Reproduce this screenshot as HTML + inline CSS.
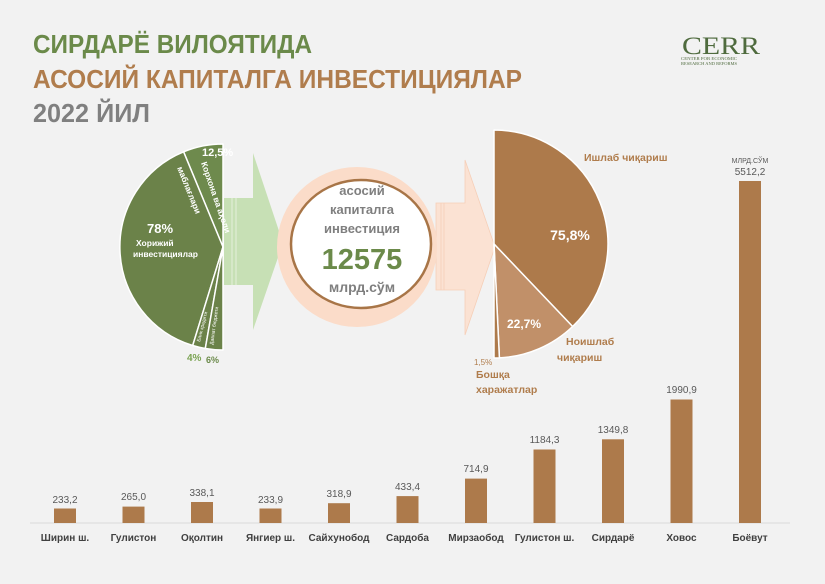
<!DOCTYPE html>
<html><head><meta charset="utf-8"><style>
html,body{margin:0;padding:0;background:#f2f2f2;}
svg{display:block;font-family:"Liberation Sans","DejaVu Sans",sans-serif;}
</style></head><body>
<svg width="825" height="584" viewBox="0 0 825 584" xmlns="http://www.w3.org/2000/svg">
<rect width="825" height="584" fill="#f2f2f2"/>
<!-- titles -->
<text x="33" y="53" font-size="26" font-weight="bold" fill="#6b8a4a" textLength="279" lengthAdjust="spacingAndGlyphs">СИРДАРЁ ВИЛОЯТИДА</text>
<text x="33" y="88" font-size="26" font-weight="bold" fill="#b07d4d" textLength="489" lengthAdjust="spacingAndGlyphs">АСОСИЙ КАПИТАЛГА ИНВЕСТИЦИЯЛАР</text>
<text x="33" y="122" font-size="26" font-weight="bold" fill="#808080" textLength="117" lengthAdjust="spacingAndGlyphs">2022 ЙИЛ</text>
<!-- logo -->
<text x="682" y="54" font-family="Liberation Serif,serif" font-size="25" fill="#4f6b3e" textLength="78" lengthAdjust="spacingAndGlyphs">CERR</text>
<text x="681" y="60" font-family="Liberation Serif,serif" font-size="4" fill="#4f6b3e" textLength="56" lengthAdjust="spacingAndGlyphs">CENTER FOR ECONOMIC</text>
<text x="681" y="65" font-family="Liberation Serif,serif" font-size="4" fill="#4f6b3e" textLength="56" lengthAdjust="spacingAndGlyphs">RESEARCH AND REFORMS</text>

<!-- green arrow -->
<path d="M224,198 L253,198 L253,153 L283,243 L253,330 L253,285 L224,285 Z" fill="#c7e0b5"/>
<line x1="232" y1="198" x2="232" y2="285" stroke="#e6f0dc" stroke-width="1"/>
<line x1="236" y1="198" x2="236" y2="285" stroke="#e6f0dc" stroke-width="1"/>
<!-- peach arrow -->
<path d="M436,203 L465,203 L465,160 L495,247 L465,335 L465,290 L436,290 Z" fill="#fbe2d3" stroke="#f6cfb8" stroke-width="0.8"/>
<line x1="441" y1="203" x2="441" y2="290" stroke="#f6cfb8" stroke-width="0.8"/>
<line x1="444" y1="203" x2="444" y2="290" stroke="#f6cfb8" stroke-width="0.8"/>

<!-- center circle -->
<circle cx="357" cy="247" r="80" fill="#fbdcc9"/>
<ellipse cx="361" cy="244" rx="70" ry="64" fill="#ffffff" stroke="#a87547" stroke-width="2.5"/>
<g font-weight="bold" fill="#7f7f7f" text-anchor="middle">
<text x="362" y="195" font-size="13">асосий</text>
<text x="362" y="214" font-size="13">капиталга</text>
<text x="362" y="233" font-size="13">инвестиция</text>
<text x="362" y="269" font-size="29" fill="#6b8a4a">12575</text>
<text x="362" y="292" font-size="14">млрд.сўм</text>
</g>

<!-- left pie -->
<g stroke="#ffffff" stroke-width="1.5" stroke-linejoin="round">
<path d="M223,247 L223,144 A103,103 0 0 0 183.6,151.8 Z" fill="#6e8a4d"/>
<path d="M223,247 L183.6,151.8 A103,103 0 0 0 192.7,345.5 Z" fill="#6b8249"/>
<path d="M223,247 L192.7,345.5 A103,103 0 0 0 205.3,348.5 Z" fill="#6b8249"/>
<path d="M223,247 L205.3,348.5 A103,103 0 0 0 223,350 Z" fill="#6b8249"/>
</g>
<text x="202" y="156" font-size="11" font-weight="bold" fill="#fff">12,5%</text>
<text transform="translate(201,163) rotate(71)" font-size="8.5" font-weight="bold" fill="#fff">Корхона ва аҳоли</text>
<text transform="translate(177,168) rotate(68)" font-size="8.5" font-weight="bold" fill="#fff">маблағлари</text>
<text x="160" y="233" font-size="13" font-weight="bold" fill="#fff" text-anchor="middle">78%</text>
<text x="136" y="246" font-size="8.5" font-weight="bold" fill="#fff">Хорижий</text>
<text x="133" y="257" font-size="8.5" font-weight="bold" fill="#fff">инвестициялар</text>
<text transform="translate(200,342) rotate(-76)" font-size="5" fill="#fff">Банк кредити</text>
<text transform="translate(213,345) rotate(-82)" font-size="5" fill="#fff">Давлат бюджети</text>
<text x="187" y="361" font-size="10" font-weight="bold" fill="#7aa352">4%</text>
<text x="206" y="363" font-size="9" font-weight="bold" fill="#6b8a4a">6%</text>

<!-- right pie -->
<g stroke="#ffffff" stroke-width="1.5" stroke-linejoin="round">
<path d="M494,244 L494,130 A114,114 0 0 1 572.6,326.5 Z" fill="#ad7a4b"/>
<path d="M494,244 L572.6,326.5 A114,114 0 0 1 499.4,357.9 Z" fill="#c19069"/>
<path d="M494,244 L499.4,357.9 A114,114 0 0 1 494,358 Z" fill="#ad7a4b"/>
</g>
<text x="570" y="240" font-size="14" font-weight="bold" fill="#fff" text-anchor="middle">75,8%</text>
<text x="524" y="328" font-size="12" font-weight="bold" fill="#fff" text-anchor="middle">22,7%</text>
<g font-weight="bold" fill="#b07d4d">
<text x="584" y="161" font-size="10.5">Ишлаб чиқариш</text>
<text x="566" y="345" font-size="10.5">Ноишлаб</text>
<text x="557" y="361" font-size="10.5">чиқариш</text>
<text x="474" y="365" font-size="8" font-weight="normal">1,5%</text>
<text x="476" y="378" font-size="10.5">Бошқа</text>
<text x="476" y="393" font-size="10.5">харажатлар</text>
</g>

<!-- bars -->
<line x1="30" y1="523" x2="790" y2="523" stroke="#d9d9d9" stroke-width="1"/>
<g fill="#ad7a4b">
<rect x="54" y="508.5" width="22" height="14.5"/>
<rect x="122.5" y="506.6" width="22" height="16.4"/>
<rect x="191" y="502" width="22" height="21"/>
<rect x="259.5" y="508.5" width="22" height="14.5"/>
<rect x="328" y="503.2" width="22" height="19.8"/>
<rect x="396.5" y="496.1" width="22" height="26.9"/>
<rect x="465" y="478.6" width="22" height="44.4"/>
<rect x="533.5" y="449.5" width="22" height="73.5"/>
<rect x="602" y="439.3" width="22" height="83.7"/>
<rect x="670.5" y="399.5" width="22" height="123.5"/>
<rect x="739" y="181" width="22" height="342"/>
</g>
<g font-size="10" fill="#595959" text-anchor="middle">
<text x="65" y="503">233,2</text>
<text x="133.5" y="500">265,0</text>
<text x="202" y="496">338,1</text>
<text x="270.5" y="503">233,9</text>
<text x="339" y="497">318,9</text>
<text x="407.5" y="490">433,4</text>
<text x="476" y="472">714,9</text>
<text x="544.5" y="443">1184,3</text>
<text x="613" y="433">1349,8</text>
<text x="681.5" y="393">1990,9</text>
<text x="750" y="163" font-size="7">МЛРД.СЎМ</text>
<text x="750" y="175">5512,2</text>
</g>
<g font-size="10" font-weight="bold" fill="#404040" text-anchor="middle">
<text x="65" y="541">Ширин ш.</text>
<text x="133.5" y="541">Гулистон</text>
<text x="202" y="541">Оқолтин</text>
<text x="270.5" y="541">Янгиер ш.</text>
<text x="339" y="541">Сайхунобод</text>
<text x="407.5" y="541">Сардоба</text>
<text x="476" y="541">Мирзаобод</text>
<text x="544.5" y="541">Гулистон ш.</text>
<text x="613" y="541">Сирдарё</text>
<text x="681.5" y="541">Ховос</text>
<text x="750" y="541">Боёвут</text>
</g>
</svg>
</body></html>
